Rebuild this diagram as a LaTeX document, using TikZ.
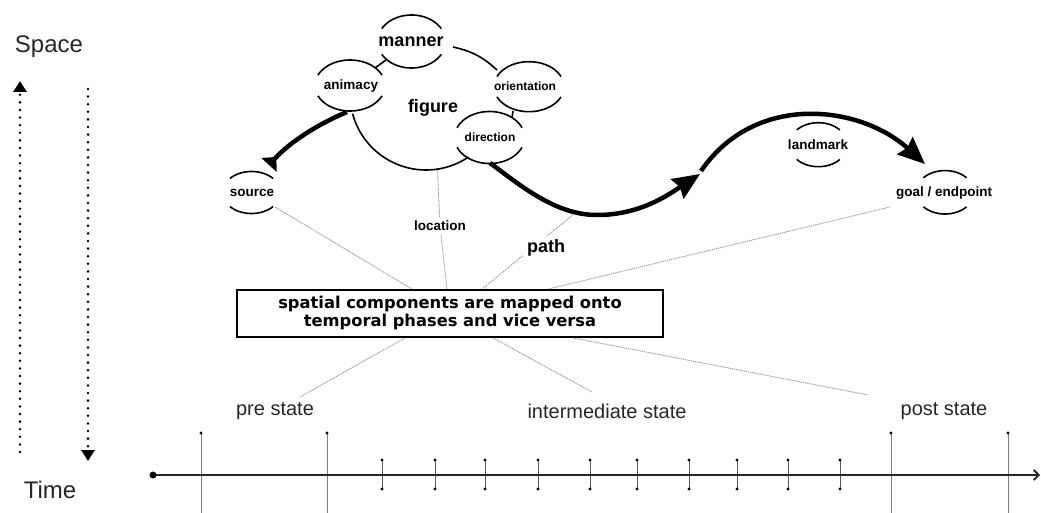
\documentclass[tikz,border=0pt]{standalone}
\usepackage{fontspec}
\setmainfont{Liberation Sans}
\newfontfamily\boxfont{DejaVu Sans}
\usetikzlibrary{arrows.meta}
\newcommand\brkcirc[5]{%
  \draw[bc] plot[domain=#5:180-#5, samples=40, smooth] ({#1+#3*cos(\x)}, {#2+#4*sin(\x)});
  \draw[bc] plot[domain=180+#5:360-#5, samples=40, smooth] ({#1+#3*cos(\x)}, {#2+#4*sin(\x)});
}
\begin{document}
\begin{tikzpicture}[x=1pt,y=-1pt,
  bc/.style={line width=1.6pt},
  fatline/.style={line width=4.5pt},
  conn/.style={draw=black!40, line width=0.9pt, dash pattern=on 1.2pt off 0.8pt},
  lblbig/.style={font=\bfseries\fontsize{18}{20}\selectfont},
  lblmid/.style={font=\bfseries\fontsize{13.5}{15}\selectfont},
  lblsmall/.style={font=\bfseries\fontsize{12}{14}\selectfont},
  statelbl/.style={font=\fontsize{20}{22}\selectfont, text=black!85},
  axislbl/.style={font=\fontsize{24}{26}\selectfont, text=black!85},
  tickline/.style={draw=black!50, line width=0.9pt},
  vdots/.style={line width=2.8pt, line cap=round, dash pattern=on 0pt off 7.6pt},
  bighead/.style={-{Stealth[length=27pt,width=23pt,inset=3pt]}},
]
\useasboundingbox (0,0) rectangle (1041,513);

% ---------- space / time axis ----------
\node[axislbl] (space) at (49,47) {Space};
\node[axislbl] (time) at (50,490) {Time};
\coordinate (upbot) at (20,452);
\coordinate (uptop) at (20,81);
\coordinate (dntop) at (88,89);
\coordinate (dnbot) at (88,461);
\draw[vdots, -{Triangle[length=11pt,width=13pt]}] (upbot) -- (uptop);
\draw[vdots, -{Triangle[length=11pt,width=13pt]}] (dntop) -- (dnbot);

% ---------- spatial labels ----------
\node[lblbig] (manner) at (411,42) {manner};
\node[lblmid] (animacy) at (351,86) {animacy};
\node[lblsmall] (orient) at (525,86) {orientation};
\node[lblsmall] (direc) at (490,137.5) {direction};
\node[lblbig] (figure) at (433,108) {figure};
\node[lblmid] (source) at (252,193) {source};
\node[lblmid] (location) at (440,226) {location};
\node[lblmid] (landmark) at (818,145) {landmark};
\node[lblmid] (goal) at (944,193) {goal / endpoint};

% broken circles
\brkcirc{411.5}{41.5}{34}{26.5}{29}
\brkcirc{350}{85.5}{35}{25.5}{24}
\brkcirc{529}{86.7}{35}{25}{24}
\brkcirc{489.5}{137.5}{35}{26}{22}
\brkcirc{251.5}{192.5}{29}{21}{42}
\brkcirc{818.3}{144.7}{29}{22}{42}
\brkcirc{945}{192.3}{29}{21.7}{42}

% figure outline
\draw[bc] plot[domain=165:56, samples=60, smooth] ({426+76*cos(\x)}, {94+76*sin(\x)});
\coordinate (mo1) at (453,47);
\coordinate (mo2) at (497,70);
\draw[bc] (mo1) to[bend left=15] (mo2);
\coordinate (ma1) at (386,60);
\coordinate (ma2) at (375,68);
\draw[bc] (ma1) -- (ma2);
\coordinate (od1) at (513,111);
\coordinate (od2) at (512,118);
\draw[bc] (od1) -- (od2);

% thick arrows
\coordinate (a1s) at (347,112);
\coordinate (a1e) at (269,165);
\draw[fatline, -{Triangle[reversed,length=11pt,width=20pt]}] (a1s) .. controls (318,124) and (290,142) .. (a1e);
\coordinate (a2s) at (490,163);
\coordinate (a2m) at (597,215);
\coordinate (a2e) at (700,174);
\draw[fatline, bighead] (a2s) .. controls (520,185) and (555,215) .. (a2m) .. controls (640,215) and (668,195) .. (a2e);
\coordinate (a3s) at (701,171);
\coordinate (a3e) at (925,164);
\draw[fatline, bighead] (a3s) .. controls (755,92) and (860,105) .. (a3e);

% ---------- box ----------
\node[draw, line width=1.8pt, minimum width=426pt, minimum height=47pt, align=center,
      font=\boxfont\bfseries\fontsize{16.3}{18}\selectfont] (box) at (450,313.5)
      {spatial components are mapped onto\\temporal phases and vice versa};
\path (box.north) ++(-38,0) coordinate (bt1) ++(35,0) coordinate (bt2) ++(35,0) coordinate (bt3) ++(66,0) coordinate (bt4);
\path (box.south) ++(-45,0) coordinate (bb1) ++(88,0) coordinate (bb2) ++(80,0) coordinate (bb3);

% connectors
\coordinate (srcend) at (275,207);
\draw[conn] (srcend) -- (bt1);
\coordinate (figbot) at (437.5,170);
\draw[conn] (figbot) -- (location);
\draw[conn] (location) -- (bt2);
\coordinate (pc) at (574,214);
\draw[conn] (pc) -- (bt3);
\node[lblbig, fill=white, inner sep=4pt] (pathlbl) at (546,248) {path};
\coordinate (goalend) at (890,207);
\draw[conn] (goalend) -- (bt4);
\coordinate (preend) at (300,397);
\coordinate (interend) at (592,392);
\coordinate (postend) at (868,395);
\draw[conn] (bb1) -- (preend);
\draw[conn] (bb2) -- (interend);
\draw[conn] (bb3) -- (postend);

% ---------- timeline ----------
\node[statelbl] (pre) at (275,411) {pre state};
\node[statelbl] (inter) at (607,411) {intermediate state};
\node[statelbl] (post) at (944,411) {post state};
\coordinate (tstart) at (153,475);
\coordinate (tend) at (1040,475);
\foreach \x in {201,327,891,1008} {
  \draw[tickline] (\x,433) -- (\x,513);
  \fill (\x,433) circle (1.6);
}
\foreach \x in {382,435,485,538,590,637,689,737,788,840} {
  \draw[tickline, draw=black!65] (\x,460) -- (\x,489);
  \fill (\x,460) circle (1.6);
  \fill (\x,489) circle (1.6);
}
\draw[line width=1.8pt, draw=black!85, -{Straight Barb[length=5pt,width=10pt]}] (tstart) -- (tend);
\fill (tstart) circle (3.5);
\end{tikzpicture}
\end{document}
